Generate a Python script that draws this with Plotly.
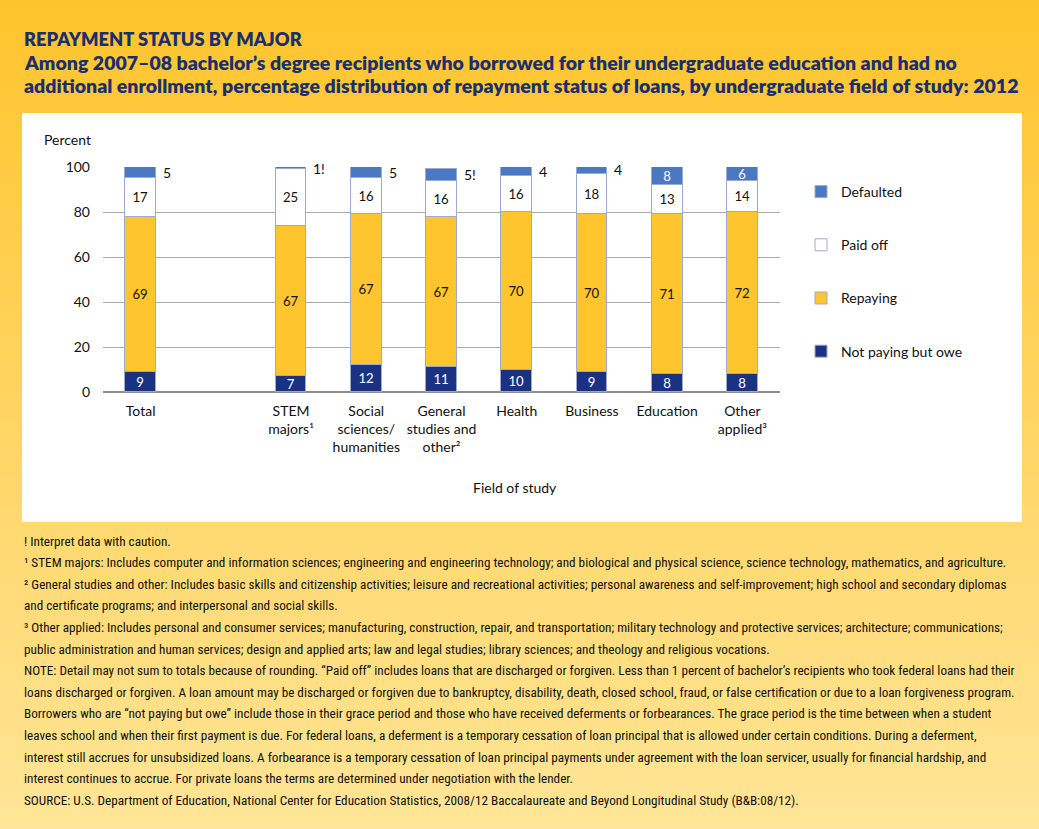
import plotly.graph_objects as go

# ---------------- data ----------------
categories = ["Total", "STEM<br>majors¹", "Social<br>sciences/<br>humanities",
              "General<br>studies and<br>other²", "Health", "Business", "Education",
              "Other<br>applied³"]
positions = [0, 2, 3, 4, 5, 6, 7, 8]
not_paying = [9, 7, 12, 11, 10, 9, 8, 8]
repaying = [69, 67, 67, 67, 70, 70, 71, 72]
paid_off = [17, 25, 16, 16, 16, 18, 13, 14]
defaulted = [5, 1, 5, 5, 4, 4, 8, 6]
caution = ["", "!", "", "!", "", "", "", ""]
defaulted_inside = [False, False, False, False, False, False, True, True]

y_ticks = [0, 20, 40, 60, 80, 100]

title = "REPAYMENT STATUS BY MAJOR"
subtitle = ["Among 2007–08 bachelor’s degree recipients who borrowed for their undergraduate education and had no",
            "additional enrollment, percentage distribution of repayment status of loans, by undergraduate field of study: 2012"]
notes = [
    "! Interpret data with caution.",
    "¹ STEM majors: Includes computer and information sciences; engineering and engineering technology; and biological and physical science, science technology, mathematics, and agriculture.",
    "² General studies and other: Includes basic skills and citizenship activities; leisure and recreational activities; personal awareness and self-improvement; high school and secondary diplomas",
    "and certificate programs; and interpersonal and social skills.",
    "³ Other applied: Includes personal and consumer services; manufacturing, construction, repair, and transportation; military technology and protective services; architecture; communications;",
    "public administration and human services; design and applied arts; law and legal studies; library sciences; and theology and religious vocations.",
    "NOTE: Detail may not sum to totals because of rounding. “Paid off” includes loans that are discharged or forgiven. Less than 1 percent of bachelor’s recipients who took federal loans had their",
    "loans discharged or forgiven. A loan amount may be discharged or forgiven due to bankruptcy, disability, death, closed school, fraud, or false certification or due to a loan forgiveness program.",
    "Borrowers who are “not paying but owe” include those in their grace period and those who have received deferments or forbearances. The grace period is the time between when a student",
    "leaves school and when their first payment is due. For federal loans, a deferment is a temporary cessation of loan principal that is allowed under certain conditions. During a deferment,",
    "interest still accrues for unsubsidized loans. A forbearance is a temporary cessation of loan principal payments under agreement with the loan servicer, usually for financial hardship, and",
    "interest continues to accrue. For private loans the terms are determined under negotiation with the lender.",
    "SOURCE: U.S. Department of Education, National Center for Education Statistics, 2008/12 Baccalaureate and Beyond Longitudinal Study (B&B:08/12).",
]

# ---------------- style ----------------
W, H = 1039, 829
ML, MR, MT, MB = 103, W - 780, 167, H - 392
PW, PH = W - ML - MR, H - MT - MB

def px(x):
    return (x - ML) / PW

def py(y):
    return (H - MB - y) / PH

FONT = "Lato, 'Open Sans', sans-serif"
NOTEFONT = "'Roboto Condensed', Lato, sans-serif"
NAVY = "#1B2F6E"
C_DEF = "#4A78C2"
C_PAID = "#FFFFFF"
C_REP = "#FFC52F"
C_NOT = "#1B3282"
EDGE = "#9AABCF"
BW = 0.41

fig = go.Figure()

series = [
    ("Not paying but owe", not_paying, C_NOT, "white", [str(v) for v in not_paying], 4),
    ("Repaying", repaying, C_REP, "#111111", [str(v) for v in repaying], 3),
    ("Paid off", paid_off, C_PAID, "#111111", [str(v) for v in paid_off], 2),
    ("Defaulted", defaulted, C_DEF, "white",
     [str(v) if ins else "" for v, ins in zip(defaulted, defaulted_inside)], 1),
]
for name, vals, col, tcol, txt, rank in series:
    fig.add_trace(go.Bar(
        x=positions, y=vals, name=name, width=BW,
        marker=dict(color=col, line=dict(color=EDGE, width=1)),
        text=txt, textposition="inside", insidetextanchor="middle", textangle=0,
        textfont=dict(family=FONT, size=14, color=tcol),
        legendgroup=name, legendrank=rank, hoverinfo="skip",
    ))

# outside labels for small defaulted segments
for p, rp, pd_, nv, d, c, ins in zip(positions, repaying, paid_off, not_paying,
                                     defaulted, caution, defaulted_inside):
    if not ins:
        fig.add_annotation(x=p + BW / 2, y=nv + rp + pd_ + d / 2, text=f"{d}{c}",
                           xanchor="left", yanchor="middle", xshift=5, showarrow=False,
                           font=dict(family=FONT, size=14, color="#111111"))

# background gradient + white panel
svg = ("data:image/svg+xml;utf8,<svg xmlns='http://www.w3.org/2000/svg' width='1039' height='829' "
       "viewBox='0 0 1039 829' preserveAspectRatio='none'><defs><linearGradient id='g' x1='0' y1='0' x2='0' y2='1'>"
       "<stop offset='0' stop-color='%23FFC42C'/><stop offset='1' stop-color='%23FFE597'/></linearGradient></defs>"
       "<rect width='1039' height='829' fill='url(%23g)'/>"
       "<rect x='22' y='113' width='1000' height='409' fill='white'/></svg>")
fig.add_layout_image(source=svg, xref="paper", yref="paper", x=px(0), y=py(0),
                     sizex=W / PW, sizey=H / PH, xanchor="left", yanchor="top",
                     sizing="stretch", layer="below")

# titles
fig.add_annotation(x=px(22), y=py(39), xref="paper", yref="paper", text=title,
                   xanchor="left", yanchor="middle", showarrow=False,
                   font=dict(family=FONT, size=18.3, weight=800, color=NAVY))
for i, line in enumerate(subtitle):
    fig.add_annotation(x=px(22), y=py(63 + 22 * i), xref="paper", yref="paper", text=line,
                       xanchor="left", yanchor="middle", showarrow=False,
                       font=dict(family=FONT, size=19.5, weight=800, color=NAVY))

# axis titles
fig.add_annotation(x=px(42), y=py(140), xref="paper", yref="paper", text="Percent",
                   xanchor="left", yanchor="middle", showarrow=False,
                   font=dict(family=FONT, size=14, color="#111111"))
fig.add_annotation(x=px(515), y=py(487), xref="paper", yref="paper", text="Field of study",
                   xanchor="center", yanchor="middle", showarrow=False,
                   font=dict(family=FONT, size=14, color="#111111"))

# notes
for i, line in enumerate(notes):
    fig.add_annotation(x=px(22), y=py(541 + 21.6 * i), xref="paper", yref="paper", text=line,
                       xanchor="left", yanchor="middle", showarrow=False,
                       font=dict(family=NOTEFONT, size=13.2, color="#111111"))

fig.update_layout(
    width=W, height=H, margin=dict(l=ML, r=MR, t=MT, b=MB, autoexpand=False),
    paper_bgcolor="#FFD050", plot_bgcolor="rgba(0,0,0,0)",
    barmode="stack", bargap=0,
    uniformtext=dict(minsize=13, mode="show"),
    font=dict(family=FONT, size=14, color="#111111"),
    showlegend=True,
    legend=dict(x=px(801), y=py(176), xanchor="left", yanchor="top",
                traceorder="grouped", tracegroupgap=32,
                bgcolor="rgba(0,0,0,0)", font=dict(family=FONT, size=14, color="#111111"),
                itemclick=False),
    xaxis=dict(range=[-0.5, 8.5], tickvals=positions, ticktext=categories,
               showgrid=False, zeroline=False, showline=False, ticks="", ticklabelstandoff=9,
               tickfont=dict(family=FONT, size=14, color="#111111"), fixedrange=True),
    yaxis=dict(range=[0, 100], tickvals=y_ticks, showgrid=True, gridcolor="#ABABAB",
               gridwidth=1, zeroline=True, zerolinecolor="#8C8C8C", zerolinewidth=2,
               ticks="", ticklabelstandoff=12,
               tickfont=dict(family=FONT, size=14, color="#111111"), fixedrange=True),
)

fig.write_html("out.html", config={"displayModeBar": False},
               post_script="document.body.style.margin='0';")
